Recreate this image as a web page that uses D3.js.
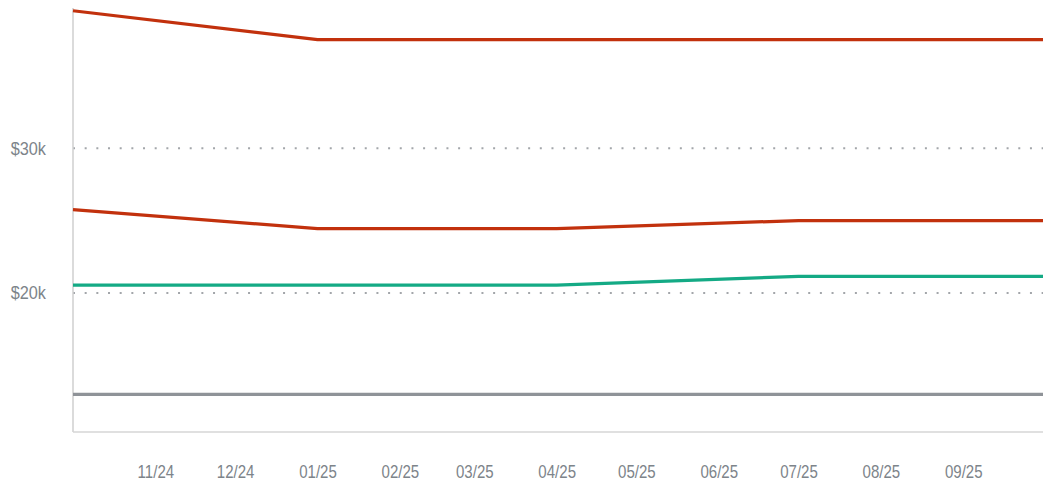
<!DOCTYPE html>
<html>
<head>
<meta charset="utf-8">
<script src="https://cdn.jsdelivr.net/npm/d3@7/dist/d3.min.js"></script>
<style>
    body { margin: 0; background: #fff; }
    .tick text { font-family: "Liberation Sans", Arial, sans-serif; fill: #7d848a; }
</style>
</head>
<body>
<script>

    // chart size matches the reference window
    var width = 1043, height = 481;
    var margin = { top: 8, right: 0, bottom: 49, left: 73 };

    // quarterly points of each series
    var dates = ["2024-10-01", "2025-01-01", "2025-04-01", "2025-07-01", "2025-10-01"];

    var topRed    = [39490, 37500, 37500, 37500, 37500];
    var midRed    = [25750, 24450, 24450, 25000, 25000];
    var green     = [20540, 20540, 20540, 21150, 21150];
    var grey      = [13000, 13000, 13000, 13000, 13000];

    // tick labels
    var xTicks = ["2024-11-01", "2024-12-01", "2025-01-01", "2025-02-01", "2025-03-01", "2025-04-01",
                  "2025-05-01", "2025-06-01", "2025-07-01", "2025-08-01", "2025-09-01"];
    var yTicks = [20000, 30000];

    var parseTime = d3.timeParse("%Y-%m-%d");

    var series = [
        { values: topRed, colour: "#c2310d" },
        { values: midRed, colour: "#c2310d" },
        { values: green,  colour: "#14aa85" },
        { values: grey,   colour: "#8f9398" }
    ];

    var svg = d3.select("body")
        .append("svg")
        .attr("width", width)
        .attr("height", height);

    var innerW = width - margin.left - margin.right;
    var innerH = height - margin.top - margin.bottom;

    var g = svg.append("g")
        .attr("transform", "translate(" + margin.left + "," + margin.top + ")");

    var x = d3.scaleTime()
        .domain([parseTime(dates[0]), parseTime(dates[dates.length - 1])])
        .range([0, innerW]);

    var y = d3.scaleLinear()
        .domain([10400, 39680])
        .range([innerH, 0]);

    // dotted gridlines
    g.append("g")
        .selectAll("line")
        .data(yTicks)
        .join("line")
        .attr("x1", 0)
        .attr("x2", innerW)
        .attr("y1", function (d) { return y(d); })
        .attr("y2", function (d) { return y(d); })
        .attr("stroke", "#a3a6aa")
        .attr("stroke-width", 2)
        .attr("stroke-dasharray", "2,9.67");

    // axis lines (no ticks)
    g.append("line")
        .attr("x1", 0).attr("x2", 0)
        .attr("y1", 0).attr("y2", innerH)
        .attr("stroke", "#cfcfcf")
        .attr("stroke-width", 1.5);

    g.append("line")
        .attr("x1", 0).attr("x2", innerW)
        .attr("y1", innerH).attr("y2", innerH)
        .attr("stroke", "#d6d6d6")
        .attr("stroke-width", 1.5);

    // x axis labels - the original font is a condensed one, so squeeze it a bit
    var xAxis = d3.axisBottom(x)
        .tickValues(xTicks.map(parseTime))
        .tickFormat(d3.timeFormat("%m/%y"))
        .tickSize(0)
        .tickPadding(34);

    var xg = g.append("g")
        .attr("transform", "translate(0," + innerH + ")")
        .call(xAxis);
    xg.select(".domain").remove();
    xg.selectAll("text")
        .style("font-size", "17.5px")
        .attr("transform", "scale(0.86,1)");

    // y axis labels
    var yAxis = d3.axisLeft(y)
        .tickValues(yTicks)
        .tickFormat(function (d) { return "$" + (d / 1000) + "k"; })
        .tickSize(0)
        .tickPadding(30.7);

    var yg = g.append("g").call(yAxis);
    yg.select(".domain").remove();
    yg.selectAll("text")
        .style("font-size", "18.5px")
        .attr("transform", "scale(0.88,1)");

    // the lines
    var line = d3.line()
        .x(function (d, i) { return x(parseTime(dates[i])); })
        .y(function (d) { return y(d); });

    series.forEach(function (s) {
        g.append("path")
            .datum(s.values)
            .attr("fill", "none")
            .attr("stroke", s.colour)
            .attr("stroke-width", 3.2)
            .attr("d", line);
    });

</script>
</body>
</html>
